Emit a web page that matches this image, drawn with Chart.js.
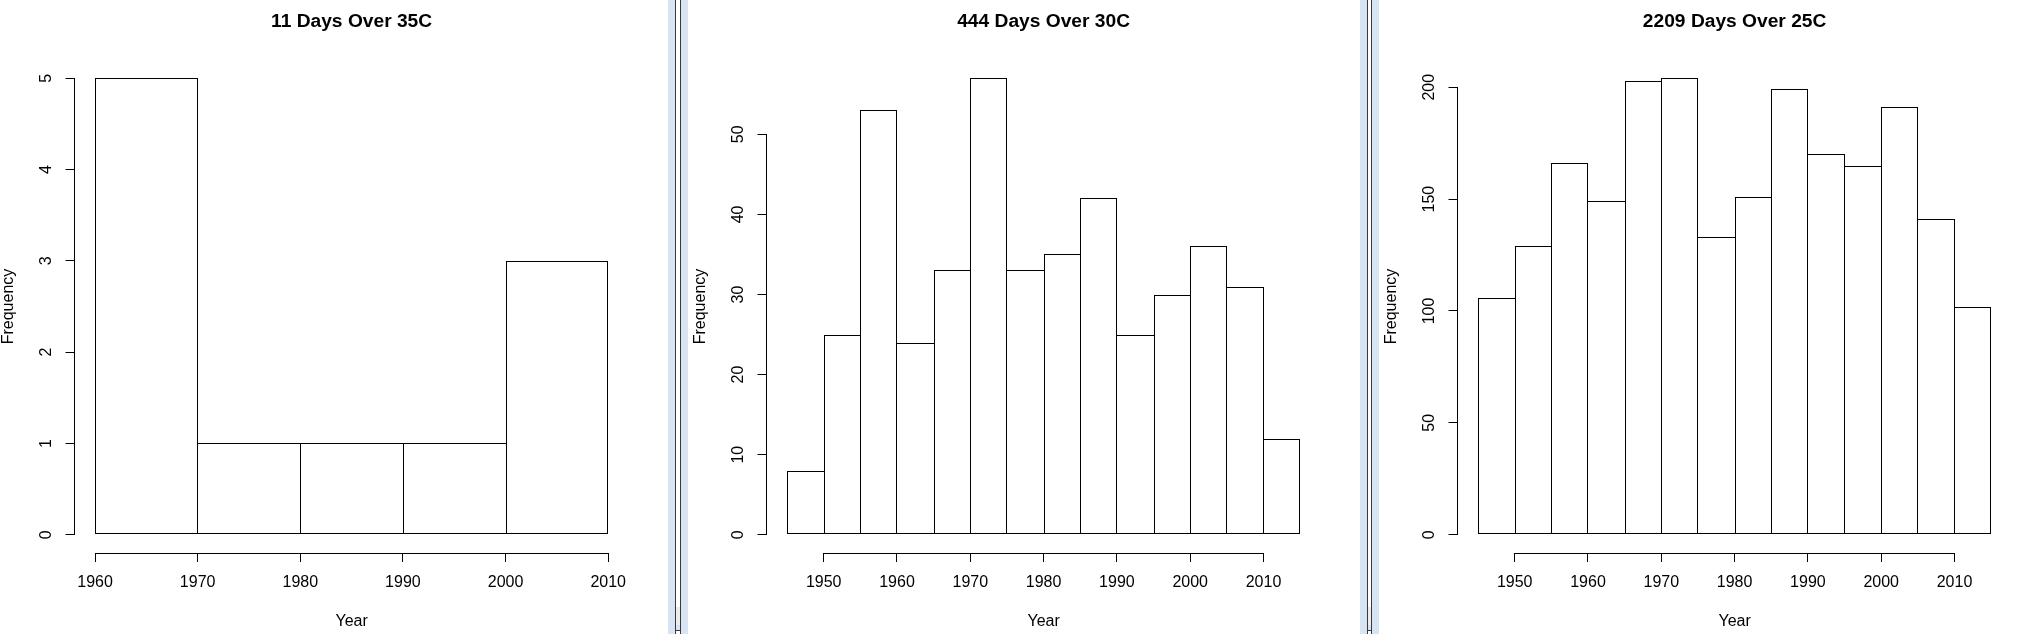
<!DOCTYPE html>
<html>
<head>
<meta charset="utf-8">
<script src="https://cdn.jsdelivr.net/npm/chart.js@4.4.1/dist/chart.umd.min.js"></script>
<style>
  html, body { margin: 0; padding: 0; background: #fff; overflow: hidden; }
  body { width: 2022px; height: 634px; position: relative; }
  canvas { position: absolute; top: 0; }
  .split { position: absolute; top: 0; height: 634px; background: #d7e4f2; }
  .rail { position: absolute; top: 0; height: 634px; background: #fff;
          border-left: 1px solid #3a3a3a; border-right: 1px solid #3a3a3a; }
  .grip { position: absolute; left: 0; right: 0; top: 607px; height: 18px; background: #ececec; }
  .foot { position: absolute; left: 0; right: 0; top: 625px; height: 5px; background: #d7e4f2; border-bottom: 1px solid #3a3a3a; }
</style>
</head>
<body>
<canvas id="c35" width="672" height="634" style="left:-4px"></canvas>
<canvas id="c30" width="672" height="634" style="left:688px"></canvas>
<canvas id="c25" width="672" height="634" style="left:1379px"></canvas>

<div class="split" style="left:668px;width:20px"></div>
<div class="rail" style="left:675px;width:4px"><div class="grip"></div><div class="foot"></div></div>
<div class="split" style="left:1360px;width:19px"></div>
<div class="rail" style="left:1367px;width:3px"><div class="grip"></div><div class="foot"></div></div>

<script>
// histogram bins (year breaks) and counts
var breaks35 = [1960, 1970, 1980, 1990, 2000, 2010];
var counts35 = [5, 1, 1, 1, 3];

var breaks30 = [1945, 1950, 1955, 1960, 1965, 1970, 1975, 1980, 1985, 1990, 1995, 2000, 2005, 2010, 2015];
var counts30 = [8, 25, 53, 24, 33, 57, 33, 35, 42, 25, 30, 36, 31, 12];

var breaks25 = [1945, 1950, 1955, 1960, 1965, 1970, 1975, 1980, 1985, 1990, 1995, 2000, 2005, 2010, 2015];
var counts25 = [106, 129, 166, 149, 203, 204, 133, 151, 199, 170, 165, 191, 141, 102];

// axis ticks
var yearTicks35 = [1960, 1970, 1980, 1990, 2000, 2010];
var yearTicks = [1950, 1960, 1970, 1980, 1990, 2000, 2010];
var freqTicks35 = [0, 1, 2, 3, 4, 5];
var freqTicks30 = [0, 10, 20, 30, 40, 50];
var freqTicks25 = [0, 50, 100, 150, 200];

Chart.defaults.font.family = '"Liberation Sans", Arial, sans-serif';
Chart.defaults.font.size = 16;
Chart.defaults.color = '#000';

// R style axis lines: only from first to last tick
var rAxes = {
  id: 'rAxes',
  afterDraw: function(chart) {
    var ctx = chart.ctx, x = chart.scales.x, y = chart.scales.y;
    var xt = x.ticks, yt = y.ticks;
    var al = function(p) { return Math.round(p - 0.5) + 0.5; };
    ctx.save();
    ctx.strokeStyle = '#000';
    ctx.lineWidth = 1;
    ctx.lineCap = 'square';
    ctx.beginPath();
    var by = al(x.top);
    ctx.moveTo(al(x.getPixelForValue(xt[0].value)), by);
    ctx.lineTo(al(x.getPixelForValue(xt[xt.length - 1].value)), by);
    var bx = al(y.right);
    ctx.moveTo(bx, al(y.getPixelForValue(yt[0].value)));
    ctx.lineTo(bx, al(y.getPixelForValue(yt[yt.length - 1].value)));
    ctx.stroke();
    ctx.restore();
  }
};

// snap the bars the library laid out onto whole pixels so the 1px edges stay crisp
var snapBars = {
  id: 'snapBars',
  afterDatasetsUpdate: function(chart) {
    chart.getDatasetMeta(0).data.forEach(function(el) {
      var l = Math.round(el.x - el.width / 2);
      var r = Math.round(el.x + el.width / 2);
      el.x = (l + r) / 2;
      el.width = r - l;
      el.y = Math.round(el.y);
      el.base = Math.round(el.base);
    });
  }
};

// shared edges between bars are drawn once, by the taller bar
function edges(c) {
  var d = c.dataset.data, i = c.dataIndex;
  var v = d[i].y;
  var prev = i > 0 ? d[i - 1].y : -1;
  var next = i < d.length - 1 ? d[i + 1].y : -1;
  return { top: 1, bottom: 1, left: v >= prev ? 1 : 0, right: v > next ? 1 : 0 };
}

function hist(id, title, breaks, counts, xTicks, yTicks, labelPad) {
  var span = breaks[breaks.length - 1] - breaks[0];
  var top = Math.max.apply(null, counts);
  var bars = counts.map(function(c, i) {
    return { x: (breaks[i] + breaks[i + 1]) / 2, y: c };
  });

  new Chart(document.getElementById(id), {
    type: 'bar',
    data: {
      datasets: [{
        data: bars,
        backgroundColor: '#fff',
        borderColor: '#000',
        borderWidth: edges,
        borderSkipped: false,
        inflateAmount: 0,
        barPercentage: 1,
        categoryPercentage: 1
      }]
    },
    options: {
      responsive: false,
      animation: false,
      events: [],
      layout: { padding: { top: 0, right: 39.3, bottom: 0, left: 0 } },
      plugins: {
        legend: { display: false },
        tooltip: { enabled: false },
        title: {
          display: true,
          text: title,
          fullSize: false,
          color: '#000',
          font: { size: 19.2, weight: 'bold' },
          padding: { top: 10.2, bottom: 26.8 }
        }
      },
      scales: {
        x: {
          type: 'linear',
          offset: false,
          bounds: 'data',
          min: breaks[0] - 0.04 * span,
          max: breaks[breaks.length - 1] + 0.04 * span,
          afterBuildTicks: function(s) { s.ticks = xTicks.map(function(v) { return { value: v }; }); },
          afterFit: function(s) { s.height = 81; },
          grid: { offset: false, drawOnChartArea: false, color: '#000', tickLength: 9 },
          border: { display: false },
          ticks: { autoSkip: false, maxRotation: 0, padding: 10.9, color: '#000',
                   callback: function(v) { return String(v); } },
          title: { display: true, text: 'Year', color: '#000', padding: { top: 0, bottom: 3.2 } }
        },
        y: {
          min: -0.04 * top,
          max: 1.04 * top,
          afterBuildTicks: function(s) { s.ticks = yTicks.map(function(v) { return { value: v }; }); },
          afterFit: function(s) { s.width = 78.5; },
          grid: { drawOnChartArea: false, color: '#000', tickLength: 9 },
          border: { display: false },
          ticks: { autoSkip: false, minRotation: 90, maxRotation: 90, crossAlign: 'center',
                   padding: labelPad, color: '#000',
                   callback: function(v) { return String(v); } },
          title: { display: true, text: 'Frequency', color: '#000', padding: { top: 2.8, bottom: 0 } }
        }
      }
    },
    plugins: [rAxes, snapBars]
  });
}

hist('c35', '11 Days Over 35C', breaks35, counts35, yearTicks35, freqTicks35, 14.85);
hist('c30', '444 Days Over 30C', breaks30, counts30, yearTicks, freqTicks30, 10.4);
hist('c25', '2209 Days Over 25C', breaks25, counts25, yearTicks, freqTicks25, 5.95);
</script>
</body>
</html>
